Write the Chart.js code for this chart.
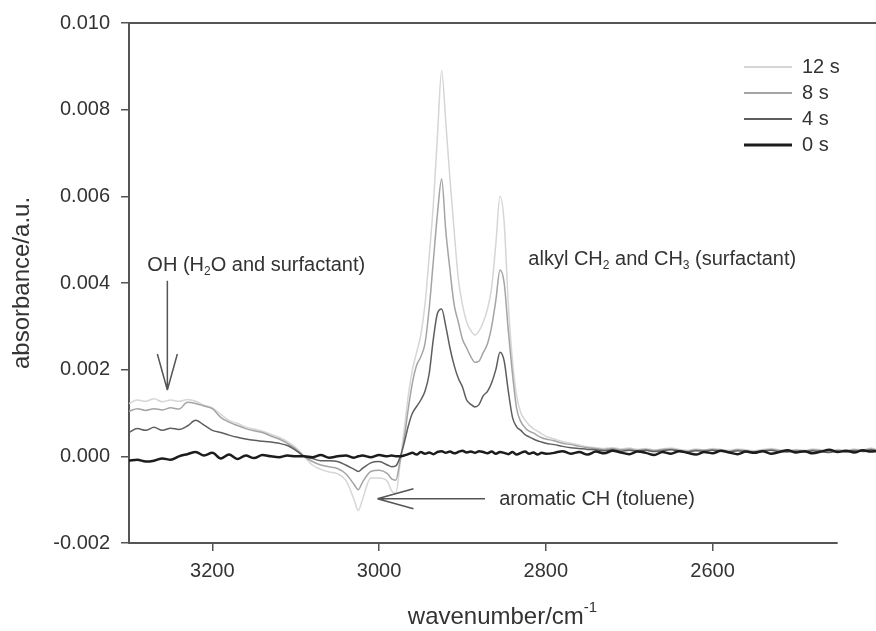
<!DOCTYPE html>
<html>
<head>
<meta charset="utf-8">
<script src="https://cdn.jsdelivr.net/npm/chart.js@4"></script>
<style>
  html, body { margin: 0; padding: 0; background: #fff; }
</style>
</head>
<body>
<canvas id="irChart" width="876" height="631"></canvas>
<script>
const FONT = "'Liberation Sans', Arial, sans-serif";

// wavenumber grid (cm-1)
const wavenumbers = [
    3300, 3290, 3280, 3270, 3260, 3250, 3240, 3230, 3220, 3210, 3200, 3190, 3180, 3170, 3160, 3150, 3140, 3130, 3120, 3110, 3100, 3090, 3080, 3070, 3060, 3050, 3040, 3030,
    3025, 3020, 3010, 3000, 2990, 2985, 2980, 2975, 2970,
    2965, 2960, 2955, 2950, 2945, 2940, 2935, 2930, 2925, 2920, 2915, 2910, 2905, 2900, 2895, 2890, 2885, 2880, 2875, 2870, 2865, 2860, 2855, 2850, 2845, 2840, 2835, 2830, 2825, 2820, 2815, 2810, 2805, 2800,
    2790, 2780, 2770, 2760, 2750, 2740, 2730, 2720, 2710, 2700, 2690, 2680, 2670, 2660, 2650, 2640, 2630, 2620, 2610, 2600, 2590, 2580, 2570, 2560, 2550, 2540, 2530, 2520, 2510, 2500, 2490, 2480, 2470, 2460, 2450, 2440, 2430, 2420, 2410, 2404
];

const abs12s = [
    0.00122, 0.0013, 0.00127, 0.00133, 0.00126, 0.0013, 0.00127, 0.00131, 0.00127, 0.00118, 0.00112, 0.00097, 0.00083, 0.00076, 0.00068, 0.00063, 0.00058, 0.00051, 0.00044, 0.00034, 0.0002, 0.0, -0.0002, -0.0003, -0.00036, -0.0004, -0.00055, -0.001,
    -0.00125, -0.001, -0.0005, -0.0005, -0.00058, -0.0008, -0.00085, -0.0002, 0.0006,
    0.0014, 0.002, 0.0024, 0.0028, 0.0035, 0.0046, 0.0058, 0.0074, 0.0089, 0.0077, 0.0064, 0.0052, 0.0041, 0.0035, 0.0031, 0.0029, 0.0028, 0.0029, 0.0031, 0.0034, 0.0039, 0.0049, 0.006, 0.0054, 0.0035, 0.0022, 0.0014, 0.001, 0.00084, 0.00072, 0.00064, 0.00058, 0.00052, 0.00046,
    0.0004, 0.00034, 0.0003, 0.00026, 0.00022, 0.0002, 0.00018, 0.0002, 0.00017, 0.00019, 0.00016, 0.00018, 0.00015, 0.00017, 0.00019, 0.00016, 0.00014, 0.00017, 0.00015, 0.00018, 0.00016, 0.00014, 0.00017, 0.00015, 0.00013, 0.00016, 0.00018, 0.00015, 0.00013, 0.00016, 0.00014, 0.00017, 0.00015, 0.00012, 0.00016, 0.00014, 0.00017, 0.00015, 0.00019, 0.00016
];

const abs8s = [
    0.00104, 0.0011, 0.00106, 0.0011, 0.00107, 0.00112, 0.00109, 0.00125, 0.00122, 0.00116, 0.0011, 0.0009, 0.00079, 0.00071, 0.00064, 0.00059, 0.00055, 0.00047, 0.0004, 0.0003, 0.00017, 0.0, -0.00012, -0.0002, -0.00024, -0.00028, -0.0004, -0.00065,
    -0.00077, -0.0006, -0.00035, -0.00032, -0.0004, -0.00052, -0.00055, -0.00012, 0.0004,
    0.0011, 0.0017, 0.0021, 0.0023, 0.0026, 0.0034, 0.0045, 0.0056, 0.0064, 0.0052, 0.0043, 0.0035, 0.0031, 0.0027, 0.0025, 0.0023, 0.00217, 0.0022, 0.0024, 0.0026, 0.003, 0.0036, 0.0043, 0.004, 0.0029, 0.0019, 0.0011, 0.0008, 0.00066, 0.00058, 0.00054, 0.00048, 0.00043, 0.0004,
    0.00036, 0.0003, 0.00027, 0.00023, 0.0002, 0.00018, 0.00016, 0.00018, 0.00015, 0.00017, 0.00014, 0.00016, 0.00013, 0.00016, 0.00017, 0.00014, 0.00012, 0.00015, 0.00014, 0.00016, 0.00014, 0.00012, 0.00015, 0.00013, 0.00011, 0.00014, 0.00016, 0.00013, 0.00012, 0.00014, 0.00012, 0.00015, 0.00013, 0.00011, 0.00014, 0.00012, 0.00015, 0.00013, 0.00017, 0.00015
];

const abs4s = [
    0.00055, 0.00064, 0.0006, 0.00067, 0.0006, 0.00065, 0.00062, 0.0007, 0.00083, 0.00072, 0.0006, 0.00055, 0.00049, 0.00044, 0.0004, 0.00037, 0.00035, 0.00033, 0.0003, 0.00025, 0.00014, 0.0, -0.00005, -0.0001, -0.0001, -0.00012, -0.0002, -0.0003,
    -0.00035, -0.00028, -0.00015, -0.00012, -0.0002, -0.00024, -0.00022, -0.00003, 0.0003,
    0.0007, 0.001, 0.00115, 0.0013, 0.0015, 0.0019, 0.0027, 0.0033, 0.0034, 0.003, 0.0025, 0.0021, 0.0018, 0.0016, 0.0013, 0.0012, 0.00114, 0.0012, 0.0014, 0.0015, 0.0017, 0.002, 0.0024, 0.0022, 0.0015, 0.0009, 0.00068, 0.0006, 0.0005, 0.00045, 0.0004, 0.00036, 0.00033, 0.0003,
    0.00027, 0.00023, 0.0002, 0.00018, 0.00016, 0.00015, 0.00013, 0.00015, 0.00012, 0.00014, 0.00012, 0.00014, 0.00011, 0.00013, 0.00015, 0.00012, 0.0001, 0.00013, 0.00012, 0.00014, 0.00012, 0.0001, 0.00013, 0.00011, 0.0001, 0.00012, 0.00014, 0.00011, 0.0001, 0.00012, 0.0001, 0.00013, 0.00011, 0.00009, 0.00012, 0.0001, 0.00013, 0.00011, 0.00015, 0.00013
];

const abs0s = [
    -0.0001, -0.00008, -0.00012, -0.0001, -0.00005, -0.00008, 0.0, 0.00005, 0.0001, 0.00002, 0.00008, -0.00005, 0.00004, -0.00006, 0.00002, -0.00004, 0.00003, 0.0, -0.00002, 0.00002, 0.0, 0.0, -0.00002, 0.00003, -0.00003, 0.0, 0.00002, -0.00003,
    0.0, 0.00002, -0.00002, 0.00003, 0.0, 0.00002, 0.0, 0.0, 0.00002,
    0.00005, 0.00008, 0.00004, 0.0001, 0.00006, 0.00009, 0.00005, 0.0001, 0.00012, 0.00008, 0.00011, 0.00007, 0.0001, 0.00013, 0.00009, 0.00011, 0.00008, 0.00012, 0.0001, 0.00007, 0.00011, 0.00006, 0.0001, 0.00008, 0.00005, 0.0001, 0.00004, 0.00008, 0.00011, 0.00006, 0.00009, 0.00004, 0.00008, 0.00006,
    0.00008, 0.00012, 0.00006, 0.0001, 0.00004, 0.00011, 0.00007, 0.00013, 0.00009, 0.00005, 0.00011, 0.00008, 0.00003, 0.0001, 0.00006, 0.00012, 0.00008, 0.00004, 0.0001, 0.00007, 0.00013, 0.00009, 0.00005, 0.00011, 0.00008, 0.00012, 0.00006, 0.0001, 0.00014, 0.00009, 0.00012, 0.00007, 0.00011, 0.00015, 0.0001, 0.00013, 0.00009, 0.00014, 0.00011, 0.00012
];

const seriesLabels = ['12 s', '8 s', '4 s', '0 s'];
const xTicks = [3200, 3000, 2800, 2600];
const yTicks = [-0.002, 0.000, 0.002, 0.004, 0.006, 0.008, 0.010];

function toPoints(values){
    return values.map((v, i) => ({ x: wavenumbers[i], y: v }));
}

const styles = [
    { color: '#d6d6d6', width: 1.5 },
    { color: '#a4a4a4', width: 1.5 },
    { color: '#5e5e5e', width: 1.5 },
    { color: '#1c1c1c', width: 2.5 }
];

const seriesValues = [abs12s, abs8s, abs4s, abs0s];

const datasets = seriesValues.map((vals, i) => ({
    label: seriesLabels[i],
    data: toPoints(vals),
    borderColor: styles[i].color,
    borderWidth: styles[i].width,
    pointRadius: 0,
    cubicInterpolationMode: 'monotone',
    order: 3 - i
}));

function richText(ctx, parts, x, y, size){
    let cx = x;
    parts.forEach(([t, kind]) => {
        const small = kind !== 0;
        ctx.font = (small ? Math.round(size * 0.62) : size) + 'px ' + FONT;
        const dy = kind === 1 ? size * 0.32 : kind === -1 ? -size * 0.38 : 0;
        ctx.fillText(t, cx, y + dy);
        cx += ctx.measureText(t).width;
    });
    return cx - x;
}

function openArrow(ctx, x1, y1, x2, y2){
    const a = Math.atan2(y2 - y1, x2 - x1);
    const len = 36, half = 10;
    ctx.beginPath();
    ctx.moveTo(x1, y1);
    ctx.lineTo(x2, y2);
    for (const s of [-1, 1]) {
        ctx.moveTo(x2, y2);
        ctx.lineTo(x2 - len * Math.cos(a) - s * half * Math.sin(a),
                   y2 - len * Math.sin(a) + s * half * Math.cos(a));
    }
    ctx.stroke();
}

const decorations = {
    id: 'decorations',
    afterDraw(chart){
        const ctx = chart.ctx;
        const { left, right, top, bottom } = chart.chartArea;
        const xs = chart.scales.x, ys = chart.scales.y;
        ctx.save();

        // frame: top line and bottom axis line
        ctx.strokeStyle = '#555';
        ctx.lineWidth = 2;
        ctx.beginPath();
        ctx.moveTo(left, top);
        ctx.lineTo(right, top);
        ctx.moveTo(left - 1, bottom);
        ctx.lineTo(xs.getPixelForValue(2450), bottom);
        ctx.stroke();

        // legend
        ctx.textBaseline = 'middle';
        ctx.textAlign = 'left';
        chart.data.datasets.forEach((ds, i) => {
            const y = 67 + i * 26;
            ctx.strokeStyle = ds.borderColor;
            ctx.lineWidth = ds.borderWidth + 0.5;
            ctx.beginPath();
            ctx.moveTo(744, y);
            ctx.lineTo(792, y);
            ctx.stroke();
            ctx.fillStyle = '#333';
            ctx.font = '20px ' + FONT;
            ctx.fillText(ds.label, 802, y);
        });

        // annotations
        ctx.fillStyle = '#333';
        richText(ctx, [['OH (H', 0], ['2', 1], ['O and surfactant)', 0]],
            xs.getPixelForValue(3278), ys.getPixelForValue(0.0044), 20);
        richText(ctx, [['alkyl CH', 0], ['2', 1], [' and CH', 0], ['3', 1], [' (surfactant)', 0]],
            xs.getPixelForValue(2821), ys.getPixelForValue(0.00454), 20);
        richText(ctx, [['aromatic CH (toluene)', 0]],
            xs.getPixelForValue(2856), ys.getPixelForValue(-0.001), 20);

        ctx.strokeStyle = '#555';
        ctx.lineWidth = 1.5;
        openArrow(ctx, xs.getPixelForValue(3254), ys.getPixelForValue(0.00405),
                       xs.getPixelForValue(3254), ys.getPixelForValue(0.00153));
        openArrow(ctx, xs.getPixelForValue(2873), ys.getPixelForValue(-0.00098),
                       xs.getPixelForValue(3002), ys.getPixelForValue(-0.00098));

        // x axis title with superscript
        ctx.font = '24px ' + FONT;
        const mainW = ctx.measureText('wavenumber/cm').width;
        ctx.font = '15px ' + FONT;
        const supW = ctx.measureText('-1').width;
        const startX = (left + right) / 2 - (mainW + supW) / 2;
        richText(ctx, [['wavenumber/cm', 0], ['-1', -1]], startX, 617, 24);

        ctx.restore();
    }
};

new Chart(document.getElementById('irChart'), {
    type: 'line',
    data: { datasets },
    options: {
        responsive: false,
        animation: false,
        layout: { padding: { top: 21, right: 0, bottom: 0, left: 0 } },
        plugins: {
            legend: { display: false },
            tooltip: { enabled: false }
        },
        scales: {
            x: {
                type: 'linear',
                reverse: true,
                min: 2404,
                max: 3300,
                afterFit: s => { s.height = 88; },
                afterBuildTicks: s => { s.ticks = xTicks.map(v => ({ value: v })); },
                border: { display: false },
                grid: { drawOnChartArea: false, drawTicks: true, tickLength: 8, color: '#555', lineWidth: 1.5 },
                ticks: {
                    callback: v => String(v),
                    font: { family: FONT, size: 20 },
                    color: '#333',
                    padding: 8,
                    maxRotation: 0
                }
            },
            y: {
                min: -0.002,
                max: 0.010,
                afterFit: s => { s.width = 129; },
                afterBuildTicks: s => { s.ticks = yTicks.map(v => ({ value: v })); },
                border: { display: true, color: '#555', width: 2 },
                grid: { drawOnChartArea: false, drawTicks: true, tickLength: 8, color: '#555', lineWidth: 1.5 },
                ticks: {
                    callback: v => v.toFixed(3),
                    font: { family: FONT, size: 20 },
                    color: '#333',
                    padding: 11
                },
                title: {
                    display: true,
                    text: 'absorbance/a.u.',
                    font: { family: FONT, size: 24 },
                    color: '#333',
                    padding: { top: 8, bottom: 0 }
                }
            }
        }
    },
    plugins: [decorations]
});
</script>
</body>
</html>
